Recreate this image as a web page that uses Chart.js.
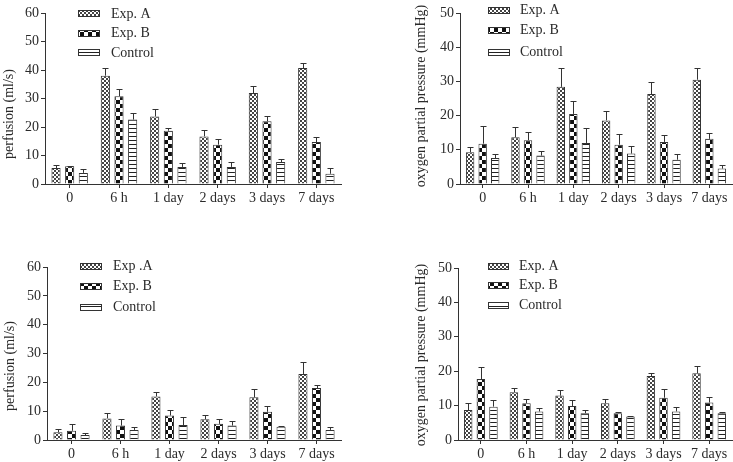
<!DOCTYPE html>
<html>
<head>
<meta charset="utf-8">
<script src="https://cdn.jsdelivr.net/npm/chart.js@4/dist/chart.umd.min.js"></script>
<style>
  html, body { margin: 0; padding: 0; background: #fff; }
  body { width: 733px; height: 462px; position: relative; overflow: hidden; }
  .box { position: absolute; }
</style>
</head>
<body>
<div class="box" style="left:0;top:0;width:350px;height:215px"><canvas id="c1"></canvas></div>
<div class="box" style="left:410px;top:0;width:323px;height:215px"><canvas id="c2"></canvas></div>
<div class="box" style="left:0;top:250px;width:350px;height:212px"><canvas id="c3"></canvas></div>
<div class="box" style="left:410px;top:250px;width:323px;height:212px"><canvas id="c4"></canvas></div>
<script>
// ---------------- DATA ----------------
const categories = ['0', '6 h', '1 day', '2 days', '3 days', '7 days'];
const labelsTop = ['Exp. A', 'Exp. B', 'Control'];
const labelsBottomLeft = ['Exp .A', 'Exp. B', 'Control'];
const labelsBottomRight = ['Exp. A', 'Exp. B', 'Control'];

const perfusionTitle = 'perfusion (ml/s)';
const oxygenTitle = 'oxygen partial pressure (mmHg)';

// Top-left: perfusion
const p1A = [5.6, 38.0, 23.7, 16.7, 31.9, 40.7];
const p1AErr = [0.9, 2.6, 2.7, 2.4, 2.4, 1.8];
const p1B = [6.2, 30.8, 18.7, 13.8, 22.0, 14.7];
const p1BErr = [0.2, 2.5, 1.1, 2.0, 1.7, 1.8];
const p1C = [3.9, 22.6, 6.0, 6.0, 7.7, 3.6];
const p1CErr = [1.4, 2.3, 1.4, 1.7, 1.2, 2.0];

// Top-right: oxygen partial pressure
const p2A = [9.3, 13.7, 28.4, 18.6, 26.3, 30.5];
const p2AErr = [1.4, 2.9, 5.5, 2.6, 3.6, 3.3];
const p2B = [11.8, 12.8, 20.5, 11.5, 12.3, 13.2];
const p2BErr = [5.1, 2.4, 3.8, 3.2, 2.1, 1.7];
const p2C = [7.6, 8.3, 12.0, 8.9, 7.1, 4.5];
const p2CErr = [1.3, 1.3, 4.3, 2.1, 1.8, 1.2];

// Bottom-left: perfusion
const p3A = [2.7, 7.5, 15.1, 7.2, 14.8, 22.9];
const p3AErr = [1.0, 1.8, 1.5, 1.3, 3.0, 4.1];
const p3B = [3.2, 5.0, 8.5, 5.6, 9.8, 18.0];
const p3BErr = [2.2, 2.3, 1.9, 1.7, 2.1, 1.1];
const p3C = [1.7, 3.5, 5.2, 5.0, 4.6, 3.5];
const p3CErr = [0.8, 1.1, 2.7, 1.7, 0.2, 0.9];

// Bottom-right: oxygen partial pressure
const p4A = [8.7, 13.9, 12.9, 10.7, 18.6, 19.4];
const p4AErr = [2.2, 1.2, 1.7, 1.1, 1.0, 2.0];
const p4B = [17.7, 10.7, 9.9, 7.8, 12.3, 10.9];
const p4BErr = [3.5, 1.2, 1.6, 0.3, 2.6, 1.7];
const p4C = [9.7, 8.3, 7.8, 6.8, 8.3, 7.8];
const p4CErr = [1.8, 1.1, 0.9, 0.2, 1.3, 0.2];

// ---------------- STYLE ----------------
const FONT = '"Liberation Serif", "Times New Roman", serif';
const TEXT = '#2a2a2a';
const LINE = '#333';

function makePattern(kind) {
  const c = document.createElement('canvas');
  const g = c.getContext('2d');
  if (kind === 'A') {
    c.width = 4; c.height = 4;
    g.fillStyle = '#fff'; g.fillRect(0, 0, 4, 4);
    g.fillStyle = '#444'; g.fillRect(0, 0, 2, 2); g.fillRect(2, 2, 2, 2);
  } else if (kind === 'B') {
    c.width = 8; c.height = 8;
    g.fillStyle = '#fff'; g.fillRect(0, 0, 8, 8);
    g.fillStyle = '#111'; g.fillRect(0, 0, 4, 4); g.fillRect(4, 4, 4, 4);
  } else {
    c.width = 4; c.height = 4;
    g.fillStyle = '#fff'; g.fillRect(0, 0, 4, 4);
    g.fillStyle = '#222'; g.fillRect(0, 0, 4, 1);
  }
  return g.createPattern(c, 'repeat');
}
const patA = makePattern('A'), patB = makePattern('B'), patC = makePattern('C');
const patterns = [patA, patB, patC];

// Error bars (upper only), drawn through the chart's own scales
const errorBarPlugin = {
  id: 'errorBars',
  afterDatasetsDraw(chart) {
    const ctx = chart.ctx;
    const ys = chart.scales.y;
    ctx.save();
    ctx.strokeStyle = LINE;
    ctx.lineWidth = 1;
    chart.data.datasets.forEach((ds, i) => {
      const meta = chart.getDatasetMeta(i);
      meta.data.forEach((bar, j) => {
        const top = ys.getPixelForValue(ds.data[j] + ds.errors[j]);
        const x = Math.round(bar.x) + 0.5;
        ctx.beginPath();
        ctx.moveTo(x, bar.y);
        ctx.lineTo(x, Math.round(top) + 0.5);
        ctx.moveTo(x - 3, Math.round(top) + 0.5);
        ctx.lineTo(x + 3, Math.round(top) + 0.5);
        ctx.stroke();
      });
    });
    ctx.restore();
  }
};

// Legend (vertical, swatches with pattern fills) and y axis title
const decorPlugin = {
  id: 'decor',
  afterDraw(chart, args, opts) {
    const ctx = chart.ctx;
    ctx.save();
    ctx.font = '14px ' + FONT;
    ctx.textBaseline = 'middle';
    chart.data.datasets.forEach((ds, i) => {
      const y = opts.rows[i];
      const top = Math.round(y - 3.5);
      ctx.fillStyle = ds.backgroundColor;
      ctx.fillRect(opts.swX, top, opts.swW, 7);
      ctx.strokeStyle = LINE;
      ctx.lineWidth = 1;
      ctx.strokeRect(opts.swX + 0.5, top + 0.5, opts.swW - 1, 6);
      ctx.fillStyle = TEXT;
      ctx.textAlign = 'left';
      ctx.fillText(ds.label, opts.textX, y + 0.5);
    });
    ctx.translate(opts.titleX, opts.titleY);
    ctx.rotate(-Math.PI / 2);
    ctx.textAlign = 'center';
    ctx.fillStyle = TEXT;
    ctx.fillText(opts.title, 0, 0);
    ctx.restore();
  }
};

function build(id, labels, vals, errs, cfg) {
  const datasets = labels.map((lab, i) => ({
    label: lab,
    data: vals[i],
    errors: errs[i],
    backgroundColor: patterns[i],
    borderColor: LINE,
    borderWidth: 1,
    borderSkipped: 'bottom',
    categoryPercentage: 0.83,
    barPercentage: 0.67
  }));
  return new Chart(document.getElementById(id), {
    type: 'bar',
    data: { labels: categories, datasets },
    plugins: [errorBarPlugin, decorPlugin],
    options: {
      responsive: true,
      maintainAspectRatio: false,
      animation: false,
      devicePixelRatio: 1,
      layout: { padding: { top: cfg.top, right: cfg.right, left: 0, bottom: 0 } },
      plugins: {
        legend: { display: false },
        tooltip: { enabled: false },
        decor: cfg.decor
      },
      scales: {
        x: {
          offset: true,
          grid: { display: true, drawOnChartArea: false, drawTicks: true, tickLength: 4, offset: false, color: LINE },
          border: { display: true, color: LINE, width: 1 },
          ticks: { color: TEXT, font: { family: FONT, size: 14 }, padding: 2, maxRotation: 0, autoSkip: false },
          afterFit(s) { s.height = cfg.xH; }
        },
        y: {
          min: 0, max: cfg.max,
          grid: { display: true, drawOnChartArea: false, drawTicks: true, tickLength: 4, color: LINE },
          border: { display: true, color: LINE, width: 1 },
          ticks: { stepSize: 10, color: TEXT, font: { family: FONT, size: 14 }, padding: 2 },
          afterFit(s) { s.width = cfg.yW; }
        }
      }
    }
  });
}

build('c1', labelsTop, [p1A, p1B, p1C], [p1AErr, p1BErr, p1CErr], {
  top: 13, right: 9, xH: 31, yW: 45, max: 60,
  decor: { rows: [13.5, 33, 52.5], swX: 78, swW: 22, textX: 111, title: perfusionTitle, titleX: 9, titleY: 114 }
});
build('c2', labelsTop, [p2A, p2B, p2C], [p2AErr, p2BErr, p2CErr], {
  top: 13, right: 1, xH: 31, yW: 50, max: 50,
  decor: { rows: [10, 30, 52], swX: 78, swW: 22, textX: 110, title: oxygenTitle, titleX: 11, titleY: 96 }
});
build('c3', labelsBottomLeft, [p3A, p3B, p3C], [p3AErr, p3BErr, p3CErr], {
  top: 17, right: 9, xH: 22, yW: 47, max: 60,
  decor: { rows: [16, 36, 57], swX: 80, swW: 22, textX: 113, title: perfusionTitle, titleX: 10, titleY: 116 }
});
build('c4', labelsBottomRight, [p4A, p4B, p4C], [p4AErr, p4BErr, p4CErr], {
  top: 18, right: 1, xH: 22, yW: 48, max: 50,
  decor: { rows: [16, 35, 55], swX: 78, swW: 21, textX: 109, title: oxygenTitle, titleX: 11, titleY: 105 }
});
</script>
</body>
</html>
